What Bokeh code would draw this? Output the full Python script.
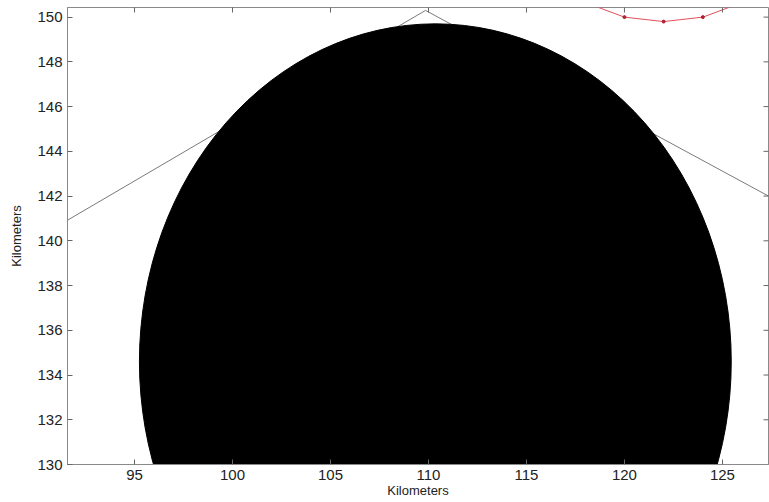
import math
from bokeh.plotting import figure
from bokeh.models import Range1d, LinearAxis, FixedTicker
from bokeh.embed import file_html
from bokeh.resources import INLINE

# ---- data (km) ----
x_ticks = [95, 100, 105, 110, 115, 120, 125]
y_ticks = [130, 132, 134, 136, 138, 140, 142, 144, 146, 148, 150]

# filled disc (centre and diameter, km)
disc_x = [110.35]
disc_y = [134.6]
disc_d = [30.2]

# grey wedge lines
wedge_x = [91.58, 109.85, 127.35]
wedge_y = [140.92, 150.30, 142.00]

# red track with points
track_x = [118, 120, 122, 124, 126]
track_y = [150.65, 150.0, 149.8, 150.0, 150.65]

X0, X1 = 91.58, 127.35
Y0, Y1 = 130.0, 150.43

FONT = "Liberation Sans"
AX_COL = "#8a8a8a"
TICK_COL = "#666666"

p = figure(width=769, height=502, output_backend="svg", toolbar_location=None,
           x_range=Range1d(X0, X1), y_range=Range1d(Y0, Y1),
           x_axis_location=None, y_axis_location=None,
           min_border_left=67, min_border_right=1, min_border_top=7, min_border_bottom=38)
p.grid.visible = False
p.outline_line_color = AX_COL
p.outline_line_width = 1
p.background_fill_color = "white"
p.border_fill_color = "white"

p.line(wedge_x, wedge_y, line_color="#7a7a7a", line_width=1)
p.ellipse(x=disc_x, y=disc_y, width=disc_d, height=disc_d,
          fill_color="black", line_color="black")
p.line(track_x, track_y, line_color="#e0505a", line_width=1)
p.scatter(track_x, track_y, size=3, color="#b02030")

# inward ticks on the top and right edges of the box (clipped to the frame)
p.scatter(x_ticks, [Y1] * len(x_ticks), marker="dash", size=10, angle=math.pi / 2,
          line_color=TICK_COL, line_width=1)
p.scatter([X1] * len(y_ticks), y_ticks, marker="dash", size=10, angle=0,
          line_color=TICK_COL, line_width=1)


def style(ax):
    ax.axis_line_color = AX_COL
    ax.major_tick_line_color = TICK_COL
    ax.major_tick_in = 5
    ax.major_tick_out = 0
    ax.minor_tick_in = 0
    ax.minor_tick_out = 0
    ax.major_label_text_font = FONT
    ax.major_label_text_font_size = "15px"
    ax.major_label_text_color = "#222222"
    ax.axis_label_text_font = FONT
    ax.axis_label_text_font_size = "13px"
    ax.axis_label_text_font_style = "normal"
    ax.axis_label_text_color = "#222222"


bx = LinearAxis(ticker=FixedTicker(ticks=x_ticks), axis_label="Kilometers")
style(bx)
bx.major_label_standoff = 5
bx.axis_label_standoff = 0
p.add_layout(bx, "below")

ly = LinearAxis(ticker=FixedTicker(ticks=y_ticks), axis_label="Kilometers")
style(ly)
ly.major_label_standoff = 5
ly.axis_label_standoff = 10
p.add_layout(ly, "left")

open("out.html", "w").write(file_html(p, INLINE))
